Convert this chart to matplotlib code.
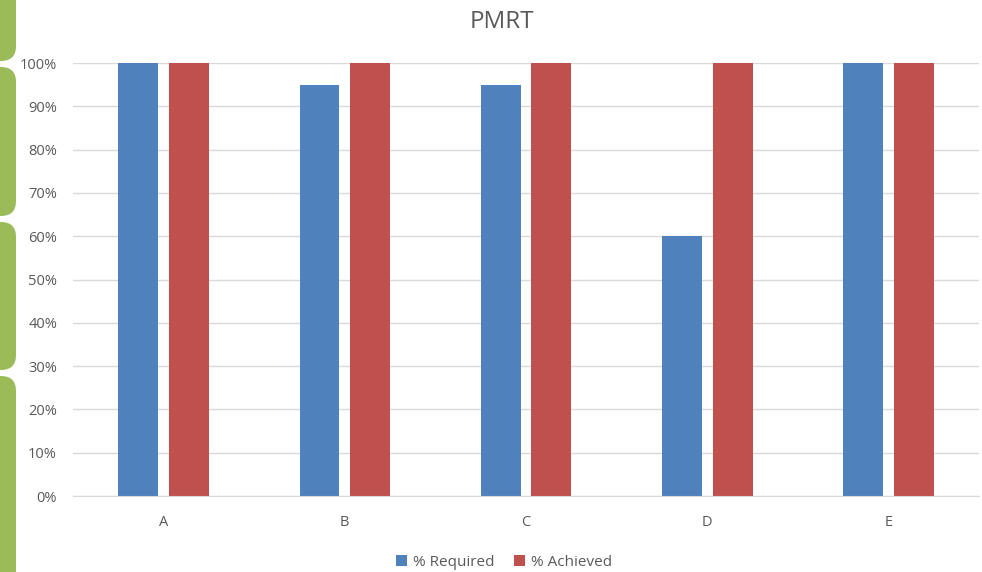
import matplotlib
matplotlib.use("Agg")
import matplotlib.pyplot as plt
from matplotlib.patches import FancyBboxPatch
import numpy as np

categories = ["A", "B", "C", "D", "E"]
required = [100, 95, 95, 60, 100]
achieved = [100, 100, 100, 100, 100]
yticks = [0, 10, 20, 30, 40, 50, 60, 70, 80, 90, 100]
ytick_labels = [f"{v}%" for v in yticks]

plt.rcParams['font.family'] = ['Open Sans', 'DejaVu Sans']

fig = plt.figure(figsize=(9.82, 5.72), dpi=100)
W, H = 982, 572

# decorative green rounded tabs on left edge (pixel coordinates)
bg = fig.add_axes([0, 0, 1, 1], zorder=0)
bg.set_xlim(0, W)
bg.set_ylim(H, 0)
bg.axis("off")
for y0, y1 in [(-30, 61), (67, 216), (222, 370), (376, 610)]:
    bg.add_patch(FancyBboxPatch((-30, y0), 46, y1 - y0,
                                boxstyle="round,pad=0,rounding_size=15",
                                facecolor="#9BBB59", edgecolor="none"))

ax = fig.add_axes([73 / W, 76 / H, 906 / W, 433 / H], zorder=1)
ax.patch.set_alpha(0)
x = np.arange(len(categories))
bw = 0.22
off = 0.14
ax.bar(x - off, required, bw, color="#4F81BD", label="% Required", zorder=3)
ax.bar(x + off, achieved, bw, color="#C0504D", label="% Achieved", zorder=3)

ax.set_xlim(-0.5, len(categories) - 0.5)
ax.set_ylim(0, 100)
ax.set_yticks(yticks)
ax.set_yticklabels(ytick_labels)
ax.set_xticks(x)
ax.set_xticklabels(categories)
ax.tick_params(axis="both", length=0, labelsize=10.5, colors="#595959")
ax.tick_params(axis="y", pad=11.5)
ax.tick_params(axis="x", pad=14)
ax.grid(axis="y", color="#D9D9D9", linewidth=1, zorder=0)
for s in ["top", "right", "left"]:
    ax.spines[s].set_visible(False)
ax.spines["bottom"].set_color("#D9D9D9")
ax.spines["bottom"].set_zorder(4)

fig.text(502 / W, 1 - 22 / H, "PMRT", ha="center", va="center",
         fontsize=17.5, color="#595959")

fig.legend(loc="center", bbox_to_anchor=(504 / W, 1 - 562 / H), ncol=2,
           frameon=False, fontsize=11, handlelength=0.7, handleheight=0.7,
           handletextpad=0.4, columnspacing=1.3, labelcolor="#595959")

fig.savefig("out.png", dpi=100)
